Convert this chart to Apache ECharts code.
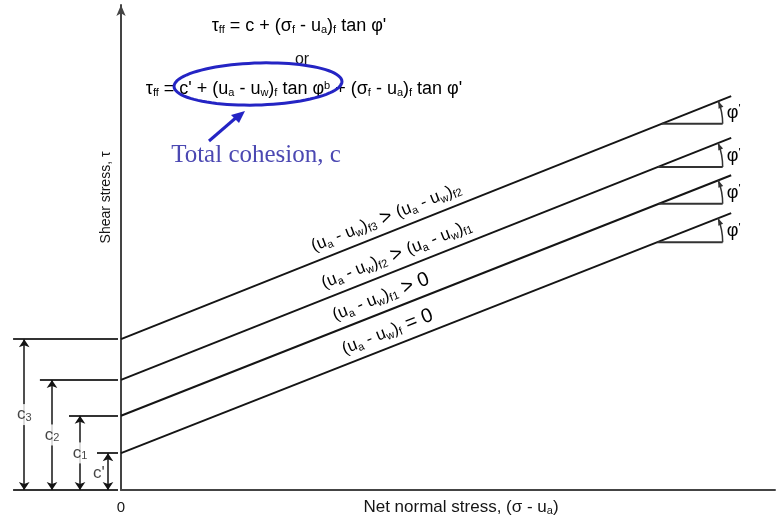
<!DOCTYPE html>
<html>
<head>
<meta charset="utf-8">
<script src="https://cdn.jsdelivr.net/npm/echarts@6/dist/echarts.min.js"></script>
<style>
  html, body { margin: 0; padding: 0; background: #fff; }
  #chart { width: 779px; height: 522px; }
</style>
</head>
<body>
<div id="chart"></div>
<script>
// Failure envelopes of an unsaturated soil, one per matric suction at failure.
// cohesion: intercept on the shear-stress axis (c', c1, c2, c3)
// envelopeEnd: shear stress where each envelope stops, at net normal stress envelopeStress
const cohesion = [7.6, 15.3, 22.7, 31.1];
const envelopeEnd = [57.1, 64.9, 72.6, 81.2];
const envelopeStress = 93.3;
const cohesionNames = ["c'", 'c1', 'c2', 'c3'];
const suctionNames = [
  '(ua - uw)f = 0',
  '(ua - uw)f1 > 0',
  '(ua - uw)f2 > (ua - uw)f1',
  '(ua - uw)f3 > (ua - uw)f2'
];
// shear stress at which the friction angle phi' is marked on each envelope
const phiLevel = [51.1, 59.0, 66.6, 75.5];
const phiArmEnd = 92.0;
const xTickValues = [0];

// ---- layout (dimension strip to the left of the shear-stress axis) ----
const DIM_MIN = -18.5;
const dimArrowX = [-1.99, -6.27, -10.55, -14.8];
const dimLineStart = [-3.67, -7.95, -12.4, -16.5];
const dimLineEnd = -0.46;
const labelAlongX = [41.6, 40.6, 43.0, 41.4];

const SANS = '"Liberation Sans", Arial, Helvetica, sans-serif';
const SERIF = '"Liberation Serif", "Times New Roman", serif';
const INK = '#151515';

function rich(size, bigScale) {
  const sub = Math.round(size * 0.62);
  return {
    t: { fontSize: size, fontFamily: SANS, color: INK },
    g: { fontSize: Math.round(size * (bigScale || 1.25)), fontFamily: SANS, color: INK },
    s: { fontSize: sub, fontFamily: SANS, color: INK, verticalAlign: 'bottom', padding: [Math.round(size * 0.35), 0, 0, 0] },
    u: { fontSize: sub, fontFamily: SANS, color: INK, verticalAlign: 'top', padding: [0, 0, Math.round(size * 0.35), 0] }
  };
}

// "(ua - uw)f3" style strings -> rich text with subscripts
function suctionRich(str) {
  return str.replace(/\(ua - uw\)(f\d?)/g, '{t|(u}{s|a}{t| - u}{s|w}{t|)}{s|$1}')
            .replace(/ > /g, '{g| > }')
            .replace(/ = /g, '{g| = }')
            .replace(/(\}|^)([^{}]+)$/, '$1{g|$2}');
}
function cohesionRich(name) {
  if (name === "c'") return "{t|c'}";
  return '{t|' + name[0] + '}{s|' + name.slice(1) + '}';
}

function envelopeAngle(api, i) {
  const p0 = api.coord([0, cohesion[i]]);
  const p1 = api.coord([envelopeStress, envelopeEnd[i]]);
  return Math.atan2(p0[1] - p1[1], p1[0] - p0[0]);
}

const chart = echarts.init(document.getElementById('chart'), null, { renderer: 'canvas' });

const envelopeSeries = cohesion.map((c, i) => ({
  name: suctionNames[i],
  type: 'line',
  xAxisIndex: 0, yAxisIndex: 0,
  data: [[0, c], [envelopeStress, envelopeEnd[i]]],
  symbol: 'none',
  lineStyle: { color: INK, width: 2 },
  z: 3,
  silent: true
}));

// ellipse around the total-cohesion term
const ellipsePts = [];
for (let k = 0; k < 90; k++) {
  const th = (k / 90) * Math.PI * 2;
  const rot = -0.03;
  const ex = 84 * Math.cos(th), ey = 21 * Math.sin(th);
  ellipsePts.push([258 + ex * Math.cos(rot) - ey * Math.sin(rot), 84 + ex * Math.sin(rot) + ey * Math.cos(rot)]);
}

const option = {
  animation: false,
  backgroundColor: '#fff',
  grid: [
    { left: 121, right: 4, top: 5, bottom: 32, containLabel: false, outerBoundsMode: 'none' },
    { left: 0, width: 121, top: 5, bottom: 32, containLabel: false, outerBoundsMode: 'none' }
  ],
  xAxis: [
    {
      type: 'value', gridIndex: 0, min: 0, max: 100, interval: 100,
      axisLine: { show: true, lineStyle: { color: '#444', width: 2 } },
      axisTick: { show: false },
      splitLine: { show: false },
      axisLabel: {
        showMaxLabel: false, margin: 10, fontSize: 15, fontFamily: SANS, color: INK,
        formatter: v => (xTickValues.indexOf(v) >= 0 ? String(v) : '')
      },
      name: '{t|Net normal stress, (σ - u}{s|a}{t|)}',
      nameLocation: 'middle', nameGap: 9, nameMoveOverlap: false,
      nameTextStyle: { rich: rich(17), padding: [0, 0, 0, 26] }
    },
    { type: 'value', gridIndex: 1, min: DIM_MIN, max: 0, show: false }
  ],
  yAxis: [
    {
      type: 'value', gridIndex: 0, min: 0, max: 100,
      axisLine: { show: true, symbol: ['none', 'arrow'], symbolSize: [7, 11], lineStyle: { color: '#444', width: 2 } },
      axisTick: { show: false },
      axisLabel: { show: false },
      splitLine: { show: false },
      name: 'Shear stress, τ',
      nameLocation: 'middle', nameGap: 8, nameRotate: 90, nameMoveOverlap: false,
      nameTextStyle: { fontSize: 14, fontFamily: SANS, color: INK, padding: [0, 0, 0, 100] }
    },
    { type: 'value', gridIndex: 1, min: 0, max: 100, show: false }
  ],
  series: envelopeSeries.concat([
    // extension lines of the cohesion intercepts and the base line
    {
      type: 'lines', coordinateSystem: 'cartesian2d', xAxisIndex: 1, yAxisIndex: 1,
      data: cohesion.map((c, i) => ({ coords: [[dimLineStart[i], c], [dimLineEnd, c]] }))
        .concat([{ coords: [[dimLineStart[3], 0], [dimLineEnd, 0]] }]),
      symbol: 'none',
      lineStyle: { color: '#333', width: 2, opacity: 1 },
      silent: true
    },
    // dimension arrows c', c1, c2, c3
    {
      type: 'lines', coordinateSystem: 'cartesian2d', xAxisIndex: 1, yAxisIndex: 1,
      data: cohesion.map((c, i) => ({ coords: [[dimArrowX[i], 0], [dimArrowX[i], c]] })),
      symbol: ['arrow', 'arrow'], symbolSize: 8,
      lineStyle: { color: INK, width: 1.5, opacity: 1 },
      silent: true
    },
    // dimension labels
    {
      type: 'scatter', xAxisIndex: 1, yAxisIndex: 1,
      data: cohesion.map((c, i) => ({
        value: [dimArrowX[i], c / 2],
        label: i === 0 ? { offset: [-9, 2], backgroundColor: 'transparent' } : {}
      })),
      symbol: 'circle',
      symbolSize: 1,
      itemStyle: { color: 'rgba(0,0,0,0)' },
      label: {
        show: true, position: 'inside',
        formatter: p => cohesionRich(cohesionNames[p.dataIndex]),
        backgroundColor: '#fff', padding: [2, 0, 2, 0],
        rich: rich(17)
      },
      z: 5,
      silent: true
    },
    // suction labels along each envelope
    {
      type: 'custom', xAxisIndex: 0, yAxisIndex: 0,
      data: labelAlongX.map((x, i) => [x, i]),
      renderItem: function (params, api) {
        const x = api.value(0);
        const i = api.value(1);
        const c = cohesion[i], e = envelopeEnd[i];
        const a = envelopeAngle(api, i);
        const p = api.coord([x, c + (e - c) * x / envelopeStress]);
        const off = 15;
        return {
          type: 'text',
          x: p[0] - off * Math.sin(a),
          y: p[1] - off * Math.cos(a),
          rotation: a,
          style: {
            text: suctionRich(suctionNames[i]),
            rich: rich(17, 1.2),
            align: 'center', verticalAlign: 'middle'
          }
        };
      },
      silent: true, z: 4
    },
    // friction angle phi' on each envelope
    {
      type: 'custom', xAxisIndex: 0, yAxisIndex: 0,
      data: phiLevel.map(v => [v]),
      renderItem: function (params, api) {
        const i = params.dataIndex;
        const level = api.value(0);
        const c = cohesion[i], e = envelopeEnd[i];
        const slope = (e - c) / envelopeStress;
        const xi = (level - c) / slope;
        const pI = api.coord([xi, level]);
        const pE = api.coord([phiArmEnd, level]);
        const a = envelopeAngle(api, i);
        const r = pE[0] - pI[0];
        const tip = [pI[0] + r * Math.cos(a), pI[1] - r * Math.sin(a)];
        const dir = [-Math.sin(a), -Math.cos(a)];
        const nrm = [dir[1], -dir[0]];
        const L = 7, W = 2.6;
        const base = [tip[0] - dir[0] * L, tip[1] - dir[1] * L];
        return {
          type: 'group',
          children: [
            { type: 'line', shape: { x1: pI[0], y1: pI[1], x2: pE[0], y2: pE[1] }, style: { stroke: '#333', lineWidth: 2 } },
            { type: 'arc', shape: { cx: pI[0], cy: pI[1], r: r, startAngle: -a, endAngle: 0, clockwise: true }, style: { stroke: '#333', lineWidth: 1.5, fill: null } },
            { type: 'polygon', shape: { points: [tip, [base[0] + nrm[0] * W, base[1] + nrm[1] * W], [base[0] - nrm[0] * W, base[1] - nrm[1] * W]] }, style: { fill: '#333' } },
            {
              type: 'text', x: pE[0] + 11, y: pE[1] - 11,
              style: { text: "{t|φ}{u|'}", rich: rich(18), align: 'center', verticalAlign: 'middle' }
            }
          ]
        };
      },
      silent: true, z: 4
    }
  ]),
  graphic: [
    {
      type: 'text',
      style: {
        x: 299, y: 26, align: 'center', verticalAlign: 'middle',
        text: "{t|τ}{s|ff}{t| = c + (σ}{s|f}{t| - u}{s|a}{t|)}{s|f}{t| tan φ'}",
        rich: rich(18)
      }
    },
    {
      type: 'text',
      style: { x: 302, y: 60, align: 'center', verticalAlign: 'middle', text: 'or', font: '16px ' + SANS, fill: INK }
    },
    {
      type: 'text',
      style: {
        x: 304, y: 89, align: 'center', verticalAlign: 'middle',
        text: "{t|τ}{s|ff}{t| = c' + (u}{s|a}{t| - u}{s|w}{t|)}{s|f}{t| tan φ}{u|b}{t| + (σ}{s|f}{t| - u}{s|a}{t|)}{s|f}{t| tan φ'}",
        rich: rich(18)
      }
    },
    {
      type: 'polygon',
      shape: { points: ellipsePts },
      style: { stroke: '#2424c4', lineWidth: 3, fill: null },
      z: 10
    },
    {
      type: 'line',
      shape: { x1: 209, y1: 141, x2: 238, y2: 116 },
      style: { stroke: '#2424c4', lineWidth: 3 },
      z: 10
    },
    {
      type: 'polygon',
      shape: { points: [[245, 111], [231, 115], [239, 123]] },
      style: { fill: '#2424c4' },
      z: 10
    },
    {
      type: 'text',
      style: {
        x: 256, y: 155, align: 'center', verticalAlign: 'middle',
        text: 'Total cohesion, c',
        font: '25px ' + SERIF, fill: '#4b48b2'
      }
    }
  ]
};

chart.setOption(option);
</script>
</body>
</html>
